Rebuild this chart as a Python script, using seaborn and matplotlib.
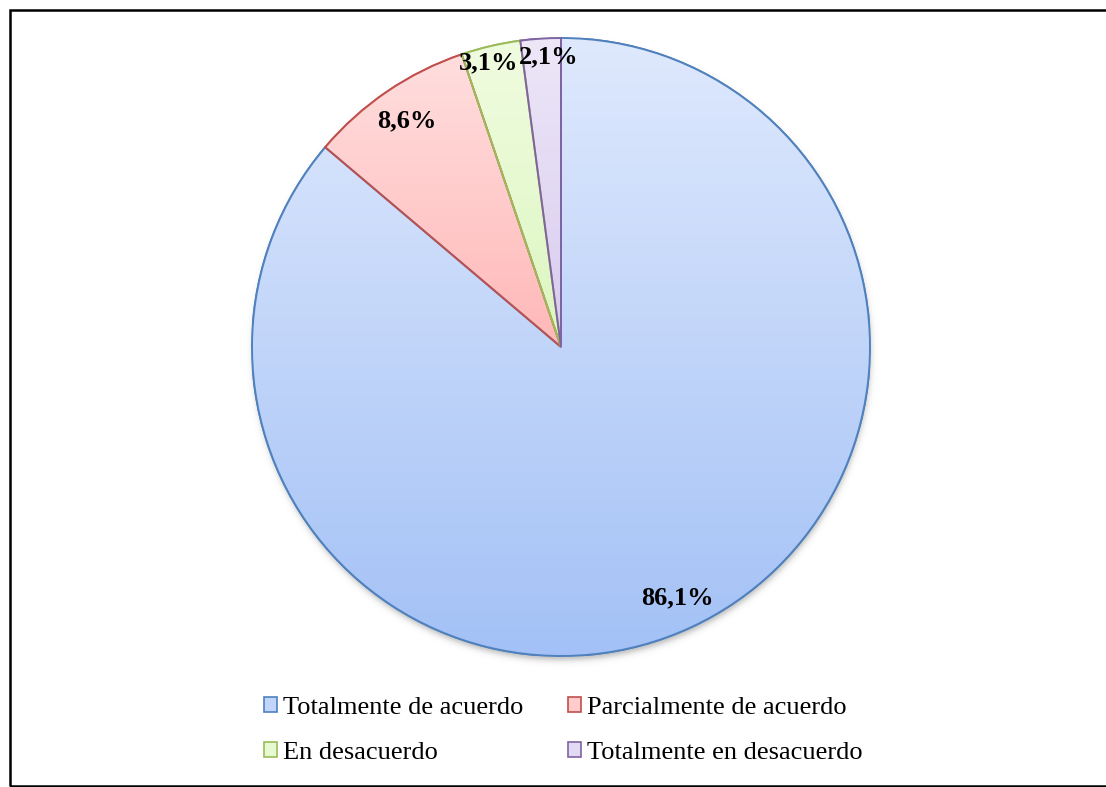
import numpy as np
import matplotlib
matplotlib.use("Agg")
import matplotlib.pyplot as plt
import matplotlib.colors as mcolors
from matplotlib.patches import Rectangle, Wedge
import seaborn as sns

# Survey answers and their shares (%)
categories = ["Totalmente de acuerdo", "Parcialmente de acuerdo",
              "En desacuerdo", "Totalmente en desacuerdo"]
shares = [86.1, 8.6, 3.1, 2.1]
value_labels = ["86,1%", "8,6%", "3,1%", "2,1%"]

# Styling: outline colour and vertical gradient (top, bottom) for each slice
edge_colors = ["#4f81bd", "#c0504d", "#9bbb59", "#8064a2"]
grad_top = ["#dfe9fd", "#ffdede", "#f0fce0", "#ede7f8"]
grad_bottom = ["#a3c1f6", "#ffb8b8", "#dcf6c0", "#d8cbef"]
label_radius = [0.895, 0.886, 0.948, 0.939]
label_angle_shift = [0.0, 0.0, 1.1, -1.4]

sns.set_theme(style="white")
plt.rcParams["font.family"] = ["Liberation Serif", "DejaVu Serif"]
plt.rcParams["text.color"] = "black"

W, H = 1106, 787
fig = plt.figure(figsize=(W / 100, H / 100), dpi=100)
fig.patch.set_facecolor("white")

cx, cy, R = 561, 347, 309
ax = fig.add_axes([(cx - R) / W, (H - cy - R) / H, 2 * R / W, 2 * R / H])
ax.set_xlim(-1, 1)
ax.set_ylim(-1, 1)
ax.set_aspect("equal")
ax.axis("off")

# soft drop shadow beneath the pie
n = 700
g = np.linspace(-1.1, 1.1, n)
X, Y = np.meshgrid(g, g)
d = np.sqrt((X - 0.003) ** 2 + (Y + 0.014) ** 2) - 1.0
alpha = 0.42 * 0.5 * (1 - np.tanh(d / 0.012))
shadow = np.zeros((n, n, 4))
shadow[..., :3] = 0.35
shadow[..., 3] = alpha
ax.imshow(shadow, extent=[-1.1, 1.1, -1.1, 1.1], origin="lower",
          zorder=0, interpolation="bilinear", clip_on=False)

wedges, _ = ax.pie(shares, startangle=90, counterclock=False, radius=1.0,
                   wedgeprops=dict(linewidth=1.4, zorder=3))

for i, w in enumerate(wedges):
    w.set_edgecolor(edge_colors[i])
    w.set_facecolor("white")
    w.set_zorder(1)
    # gradient fill spanning the slice's own vertical extent
    verts = w.get_path().vertices
    y0, y1 = verts[:, 1].min(), verts[:, 1].max()
    x0, x1 = verts[:, 0].min(), verts[:, 0].max()
    cmap = mcolors.LinearSegmentedColormap.from_list(
        f"g{i}", [grad_bottom[i], grad_top[i]])
    grad = np.linspace(0, 1, 256).reshape(-1, 1)
    im = ax.imshow(grad, extent=[x0, x1, y0, y1], origin="lower",
                   cmap=cmap, aspect="auto", zorder=2, interpolation="bilinear")
    im.set_clip_path(w)
    # outline on top
    ax.add_patch(Wedge(w.center, w.r, w.theta1, w.theta2, facecolor="none",
                       edgecolor=edge_colors[i], linewidth=1.4, zorder=4))

# value labels at slice mid-angles
for i, w in enumerate(wedges):
    mid = np.deg2rad((w.theta1 + w.theta2) / 2 + label_angle_shift[i])
    r = label_radius[i]
    ax.text(r * np.cos(mid), r * np.sin(mid), value_labels[i],
            ha="center", va="center", fontsize=19, fontweight="bold",
            color="black", zorder=5)

ax.set_xlim(-1, 1)
ax.set_ylim(-1, 1)

# legend, filled row by row in two columns
mid_colors = [mcolors.to_hex(np.mean([mcolors.to_rgb(a), mcolors.to_rgb(b)], axis=0))
              for a, b in zip(grad_top, grad_bottom)]
handles = [Rectangle((0, 0), 1, 1, facecolor=mid_colors[i],
                     edgecolor=edge_colors[i], linewidth=1.2)
           for i in range(len(categories))]
order = [0, 2, 1, 3]
leg = fig.legend([handles[k] for k in order], [categories[k] for k in order],
                 ncol=2, loc="upper left",
                 bbox_to_anchor=(251 / W, 1 - 684 / H), frameon=False,
                 fontsize=19, handlelength=0.48, handleheight=0.48,
                 handletextpad=0.22, columnspacing=1.72, labelspacing=0.87,
                 borderpad=0.0, labelcolor="black")

# outer frame
fig.add_artist(Rectangle((9.5 / W, 1.5 / H), (W + 20) / W, (H - 11) / H,
                         transform=fig.transFigure, fill=False,
                         edgecolor="black", linewidth=1.8, clip_on=False))

fig.savefig("out.png", dpi=100, facecolor="white")
